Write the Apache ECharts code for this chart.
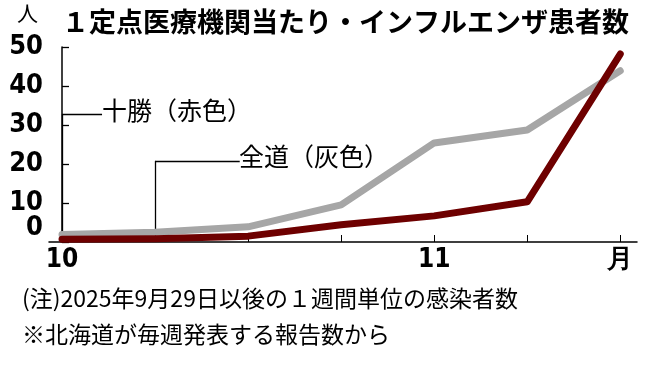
<!DOCTYPE html>
<html><head><meta charset="utf-8">
<script src="https://cdn.jsdelivr.net/npm/echarts@6/dist/echarts.min.js"></script>
<style>html,body{margin:0;padding:0;background:#fff}#c{width:650px;height:367px}</style>
</head><body><div id="c"></div>
<script>
const weeks = [0, 1, 2, 3, 4, 5, 6];
const xTickLabels = {0: '10', 4: '11', 6: '月'};
const yTicks = [0, 10, 20, 30, 40, 50];
const zendo = [1.9, 2.5, 3.9, 9.5, 25.4, 28.7, 43.9];   // 全道（灰色）
const tokachi = [0.7, 0.85, 1.5, 4.4, 6.7, 10.3, 48.2]; // 十勝（赤色）
const title = '１定点医療機関当たり・インフルエンザ患者数';
const note1 = '(注)2025年9月29日以後の１週間単位の感染者数';
const note2 = '※北海道が毎週発表する報告数から';

const JP = '"Noto Sans CJK JP", sans-serif';
const NUM = '"DejaVu Sans Condensed", "Liberation Sans Narrow", sans-serif';
const chart = echarts.init(document.getElementById('c'), null, {renderer: 'canvas'});
chart.setOption({
  animation: false,
  backgroundColor: '#fff',
  grid: {left: 49, right: 13, top: 47, bottom: 125},
  xAxis: {
    type: 'value', min: -0.14, max: 6.18,
    splitLine: {show: false},
    axisLine: {lineStyle: {color: '#000', width: 1.5}},
    axisTick: {inside: true, length: 7, customValues: weeks, lineStyle: {color: '#000', width: 1}},
    axisLabel: {customValues: [0, 4, 6], formatter: v => xTickLabels[v] || '',
      color: '#000', fontFamily: NUM, fontWeight: 'bold', fontSize: 26, margin: 5, hideOverlap: false}
  },
  yAxis: {
    type: 'value', min: 0, max: 50, interval: 10,
    splitLine: {show: false},
    axisLine: {show: true, lineStyle: {color: '#000', width: 1.5}},
    axisTick: {show: true, inside: true, length: 7, customValues: yTicks, lineStyle: {color: '#000', width: 1.3}},
    axisLabel: {color: '#000', fontFamily: NUM, fontWeight: 'bold', fontSize: 27, margin: 6,
      customValues: yTicks.filter(v => v > 0), hideOverlap: false,
      formatter: v => String(v)}
  },
  series: [
    {
      name: '全道', type: 'line', data: weeks.map((w, i) => [w, zendo[i]]),
      symbol: 'none', z: 3,
      lineStyle: {color: '#a6a6a6', width: 7, cap: 'round', join: 'round'},
      markLine: {
        silent: true, symbol: 'none', z: 1, animation: false,
        lineStyle: {color: '#000', width: 1.3, type: 'solid'},
        label: {show: false},
        data: [
          [{coord: [0, 0.9]}, {coord: [0, 32.8]}],
          [{coord: [0, 32.8]}, {coord: [0.43, 32.8]}],
          [{coord: [1, 2.3]}, {coord: [1, 20.8]}],
          [{coord: [1, 20.8]}, {coord: [1.91, 20.8]}]
        ]
      }
    },
    {
      name: '十勝', type: 'line', data: weeks.map((w, i) => [w, tokachi[i]]),
      symbol: 'none', z: 4,
      lineStyle: {color: '#6e0000', width: 7, cap: 'round', join: 'round'}
    }
  ],
  graphic: [
    {type: 'text', left: 62, top: 8, style: {text: title, font: 'bold 27px ' + JP, fill: '#000'}},
    {type: 'text', left: 17, top: 3, style: {text: '人', font: '21px ' + JP, fill: '#000'}},
    {type: 'text', x: 43, y: 228, style: {text: String(yTicks[0]), font: 'bold 27px ' + NUM, fill: '#000', align: 'right', verticalAlign: 'middle'}},
    {type: 'text', left: 102, top: 98, style: {text: '十勝（赤色）', font: '25px ' + JP, fill: '#000'}},
    {type: 'text', left: 239, top: 144, style: {text: '全道（灰色）', font: '25px ' + JP, fill: '#000'}},
    {type: 'text', left: 22, top: 287, style: {text: note1, font: '23px ' + JP, fill: '#000'}},
    {type: 'text', left: 22, top: 323, style: {text: note2, font: '23px ' + JP, fill: '#000'}}
  ]
});
</script></body></html>
